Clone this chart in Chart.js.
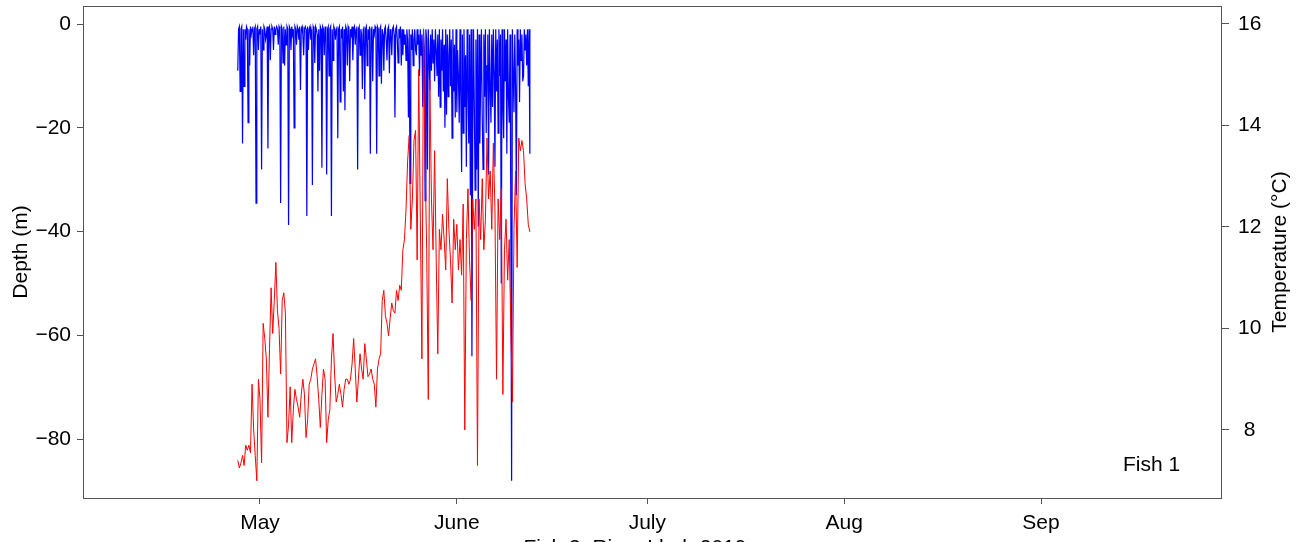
<!DOCTYPE html>
<html>
<head>
<meta charset="utf-8">
<title>Fish 1 - depth and temperature</title>
<script src="https://cdn.jsdelivr.net/npm/chart.js@4.4.1/dist/chart.umd.min.js"></script>
<style>
  html, body { margin: 0; padding: 0; background: #fff; overflow: hidden; }
  #wrap { width: 1309px; height: 542px; position: relative; }
</style>
</head>
<body>
<div id="wrap"><canvas id="chart" width="1309" height="542"></canvas></div>
<script>
// x is counted in days from 1 April 2019
const monthTicks = [30, 61, 91, 122, 153];
const monthLabels = ["May", "June", "July", "Aug", "Sep"];
const depthTicks = [0, -20, -40, -60, -80];
const tempTicks = [8, 10, 12, 14, 16];

// depth (m), one reading every 3 h from 27 Apr 12:00, one row per day
const depthStartDay = 26.5;
const depthStepDays = 0.125;
const depthM = [
  -9, -1, -0.5, -13, -1, -0.5, -23, -1,
  -12, -1, -3, -0.5, -1, -19, -1, -8,
  -0.5, -2, -1, -0.5, -6, -1, -0.5, -34.5,
  -1, -0.5, -5, -1, -2, -0.5, -28, -1,
  -5, -0.5, -1, -3, -2, -0.5, -24, -1,
  -0.5, -7, -1, -0.5, -1, -5, -0.5, -2,
  -1, -0.5, -1, -4, -0.5, -1, -34.5, -0.5,
  -1, -7.5, -0.5, -8, -1, -4, -0.5, -1,
  -38.7, -0.5, -1, -5, -0.5, -2, -1, -20,
  -0.5, -1, -4, -0.5, -1, -3, -0.5, -12.7,
  -1, -0.5, -2, -6, -1, -0.5, -1, -37,
  -0.5, -5, -1, -0.5, -3, -1, -31, -0.5,
  -1, -7.5, -0.5, -1, -2, -13, -1, -9,
  -0.5, -1, -27.7, -0.5, -1, -6, -0.5, -2,
  -29, -1, -0.5, -10, -1, -0.5, -37, -1,
  -7, -0.5, -1, -3, -1, -0.5, -22, -1,
  -0.5, -15, -1, -2, -0.5, -13, -1, -16.6,
  -0.5, -1, -8, -0.5, -1, -11, -1, -2,
  -0.5, -7, -1, -0.5, -4, -1, -0.5, -28,
  -1, -0.5, -6, -1, -2, -12.5, -1, -0.5,
  -14.5, -1, -0.5, -8, -1, -3, -0.5, -25,
  -1, -0.5, -11, -1, -2, -0.5, -1, -25,
  -0.5, -1, -10, -1, -0.5, -11.5, -1, -2,
  -9, -1, -0.5, -3, -7, -1, -0.5, -9.5,
  -1, -2, -6, -1, -0.5, -2, -18, -1,
  -0.5, -3, -7.5, -1, -2, -0.5, -8, -1,
  -6, -1, -4, -2, -7, -1, -3, -18,
  -1, -30.7, -2, -5, -1, -8, -3, -1,
  -5, -6, -1, -4, -2, -10, -1, -6,
  -2, -16, -1, -5, -34, -1, -3, -28,
  -1, -6, -12.7, -2, -9, -1, -7.5, -3,
  -11, -1, -5, -10, -2, -14, -1, -16,
  -3, -9, -1, -13, -4, -20, -1, -17.5,
  -2, -14, -6, -1, -12, -3, -22, -1,
  -13, -4, -18, -1, -17, -5, -10, -19,
  -1, -14, -28.5, -2, -21, -1, -16, -6,
  -27.5, -1, -12, -23, -2, -33, -1, -64,
  -23, -1, -15, -32, -3, -28, -1, -39,
  -2, -23, -11, -1, -18, -28, -2, -14,
  -1, -21, -8, -2, -29, -1, -12, -19,
  -2, -16, -1, -9, -27.5, -1, -13, -3,
  -21, -1, -10, -2, -50, -1, -15, -22,
  -1, -11, -3, -25, -1, -14, -19, -2,
  -36.5, -88, -1, -9, -17, -2, -12, -33,
  -1, -8, -3, -15, -1, -7, -2, -11,
  -10, -1, -5, -2, -8, -1, -12, -1,
  -25
];

// temperature (°C), one reading every 6 h from 27 Apr 12:00, one row per day
const tempStartDay = 26.5;
const tempStepDays = 0.25;
const tempC = [
  7.4, 7.25, 7.35, 7.5,
  7.3, 7.7, 7.6, 7.7,
  7.55, 8.9, 8.0, 7.5,
  7.0, 9.0, 8.6, 7.35,
  10.1, 9.8, 9.4, 8.25,
  9.6, 10.8, 9.9, 10.55,
  11.3, 10.35, 10.0, 9.1,
  10.55, 10.7, 10.3, 7.75,
  8.1, 8.85, 7.75, 8.4,
  8.8, 8.6, 8.45, 8.25,
  8.7, 9.0, 8.7, 7.85,
  8.2, 8.9, 9.0, 9.2,
  9.3, 9.4, 9.05, 8.6,
  8.05, 8.7, 9.2, 9.0,
  7.75, 8.2, 8.4, 9.4,
  9.9, 9.1, 8.55, 8.7,
  8.9, 8.7, 8.45, 8.8,
  9.0, 9.0, 8.9, 9.0,
  9.3, 9.8, 9.2, 8.55,
  9.0, 9.5, 9.2, 9.0,
  9.7, 9.4, 9.05, 9.1,
  9.2, 9.0, 8.9, 8.45,
  9.2, 9.4, 9.5, 10.55,
  10.75, 10.25, 10.1, 9.85,
  10.2, 10.5, 10.35, 10.3,
  10.75, 10.55, 10.85, 10.75,
  11.55, 11.75, 12.35, 13.3,
  13.8, 11.95, 12.55, 13.7,
  13.9, 11.35, 15.1, 12.15,
  9.4, 15.9, 13.3, 11.55,
  8.6, 14.9, 12.55, 11.55,
  13.5, 11.35, 9.5, 11.95,
  11.55, 12.25, 11.75, 11.15,
  12.95, 11.95, 11.35, 10.5,
  12.15, 11.55, 12.05, 11.15,
  11.75, 11.05, 12.45, 8.0,
  11.75, 12.75, 11.35, 10.55,
  12.55, 11.95, 12.55, 7.3,
  12.55, 11.75, 12.95, 11.55,
  12.15, 13.75, 12.55, 13.1,
  11.95, 13.65, 12.35, 9.0,
  12.55, 11.75, 12.75, 8.7,
  11.55, 12.15, 10.95, 11.75,
  10.0, 8.55, 11.95, 13.1,
  11.2, 13.75, 13.5, 13.7,
  13.5, 12.85, 12.55, 12.05,
  11.9
];

const FONT = "'Liberation Sans', Arial, Helvetica, sans-serif";
const minus = (v) => String(v).replace("-", "\u2212");

const depthPoints = depthM.map((d, i) => ({ x: depthStartDay + i * depthStepDays, y: d }));
const tempPoints = tempC.map((t, i) => ({ x: tempStartDay + i * tempStepDays, y: t }));

// axes keep a fixed size and do not push the plot inwards for overhanging labels
function fixSize(w, h) {
  return (s) => {
    if (w) s.width = w;
    if (h) s.height = h;
    s.paddingTop = 0;
    s.paddingBottom = 0;
    s.paddingLeft = 0;
    s.paddingRight = 0;
  };
}

// box round the plot, axis titles and the panel label
const decorations = {
  id: "decorations",
  afterDraw(chart) {
    const ctx = chart.ctx;
    const a = chart.chartArea;
    const midY = (a.top + a.bottom) / 2;
    ctx.save();
    ctx.strokeStyle = "#555";
    ctx.lineWidth = 1;
    ctx.strokeRect(a.left + 0.5, a.top + 0.5, a.right - a.left - 1, a.bottom - a.top);

    ctx.fillStyle = "#000";
    ctx.font = "21px " + FONT;
    ctx.textAlign = "center";
    ctx.textBaseline = "middle";

    ctx.save();
    ctx.translate(21, midY);
    ctx.rotate(-Math.PI / 2);
    ctx.fillText("Depth (m)", 0, 0);
    ctx.restore();

    ctx.save();
    ctx.translate(1280, midY);
    ctx.rotate(-Math.PI / 2);
    ctx.fillText("Temperature (\u00B0C)", 0, 0);
    ctx.restore();

    ctx.textAlign = "left";
    ctx.fillText("Fish 1", a.right - 99, a.bottom - 33);

    ctx.textAlign = "center";
    ctx.textBaseline = "alphabetic";
    ctx.fillText("Fish 3, River Lledr 2019", 635, 554);
    ctx.restore();
  }
};

new Chart(document.getElementById("chart"), {
  type: "line",
  data: {
    datasets: [
      {
        label: "Temperature",
        data: tempPoints,
        yAxisID: "yTemp",
        borderColor: "#ff0000",
        borderWidth: 1,
        pointRadius: 0,
        tension: 0,
        order: 0
      },
      {
        label: "Depth",
        data: depthPoints,
        yAxisID: "yDepth",
        borderColor: "#0000ff",
        borderWidth: 1.2,
        pointRadius: 0,
        tension: 0,
        order: 1
      }
    ]
  },
  options: {
    responsive: false,
    animation: false,
    events: [],
    layout: { padding: { top: 6, left: 0, right: 0, bottom: 0 } },
    plugins: { legend: { display: false }, tooltip: { enabled: false } },
    scales: {
      x: {
        type: "linear",
        position: "bottom",
        min: 2.126,
        max: 181.5,
        afterBuildTicks: (s) => { s.ticks = monthTicks.map((v) => ({ value: v })); },
        afterFit: fixSize(0, 44),
        border: { display: false },
        grid: { drawOnChartArea: false, drawTicks: true, tickLength: 6, color: "#555" },
        ticks: {
          autoSkip: false,
          maxRotation: 0,
          padding: 7,
          color: "#000",
          font: { family: FONT, size: 21 },
          callback: (v) => monthLabels[monthTicks.indexOf(v)]
        }
      },
      yDepth: {
        type: "linear",
        position: "left",
        min: -91.3,
        max: 3.47,
        afterBuildTicks: (s) => { s.ticks = depthTicks.map((v) => ({ value: v })); },
        afterFit: fixSize(83, 0),
        border: { display: false },
        grid: { drawOnChartArea: false, drawTicks: true, tickLength: 6, color: "#555" },
        ticks: {
          padding: 6,
          color: "#000",
          font: { family: FONT, size: 21 },
          callback: (v) => minus(v)
        }
      },
      yTemp: {
        type: "linear",
        position: "right",
        min: 6.66,
        max: 16.35,
        afterBuildTicks: (s) => { s.ticks = tempTicks.map((v) => ({ value: v })); },
        afterFit: fixSize(87, 0),
        border: { display: false },
        grid: { drawOnChartArea: false, drawTicks: true, tickLength: 7, color: "#555" },
        ticks: {
          padding: 9,
          crossAlign: "center",
          color: "#000",
          font: { family: FONT, size: 21 }
        }
      }
    }
  },
  plugins: [decorations]
});
</script>
</body>
</html>
